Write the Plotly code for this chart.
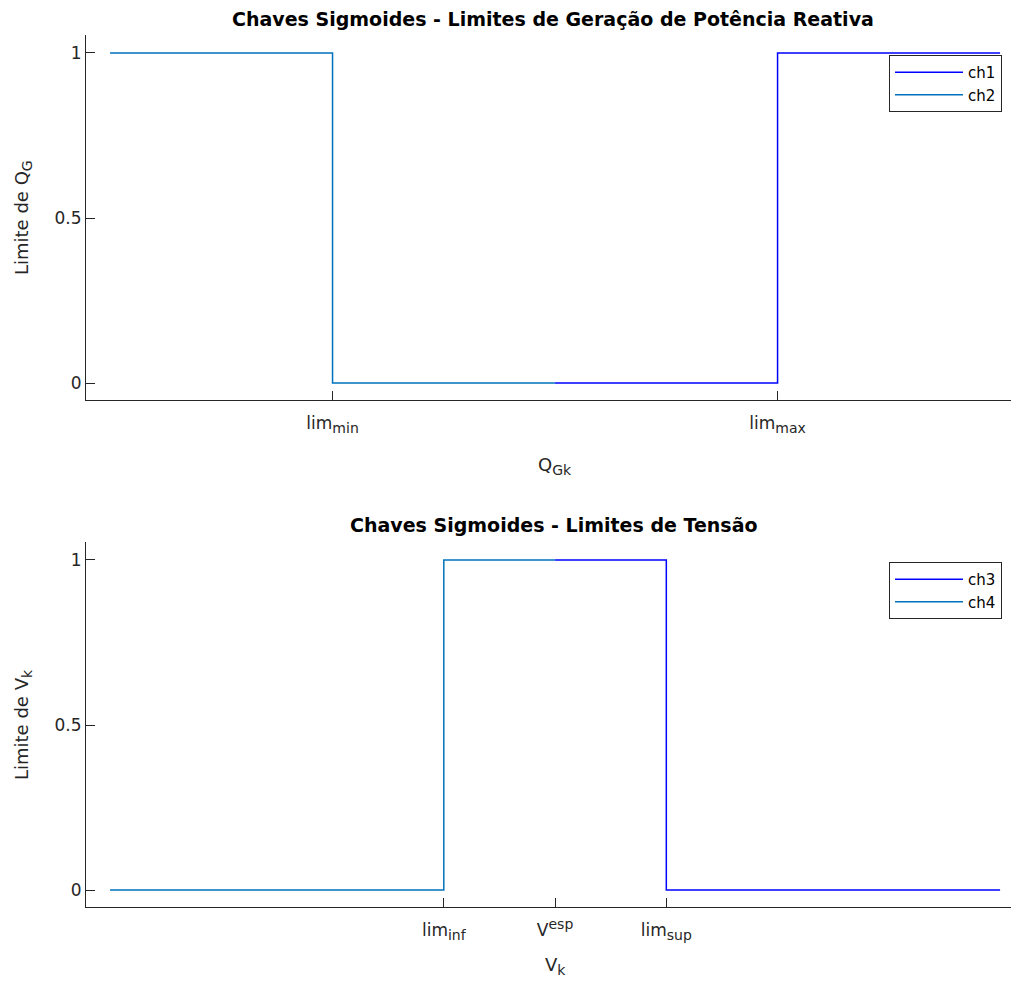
import plotly.graph_objects as go

# Data
x_ch1 = [0, 1, 2]
y_ch1 = [0, 1, 1]
x_ch2 = [-2, -1, 0]
y_ch2 = [1, 0, 0]
x_ch3 = [0, 0.5, 2]
y_ch3 = [1, 0, 0]
x_ch4 = [-2, -0.5, 0]
y_ch4 = [0, 1, 1]

SUBSTYLE = '<span style="font-size:14px">'
top_tickvals = [-1, 1]
top_ticktext = ["lim<sub>" + SUBSTYLE + "min</span></sub>", "lim<sub>" + SUBSTYLE + "max</span></sub>"]
bot_tickvals = [-0.5, 0, 0.5]
bot_ticktext = ["lim<sub>" + SUBSTYLE + "inf</span></sub>", "V<sup>" + SUBSTYLE + "esp</span></sup>",
                "lim<sub>" + SUBSTYLE + "sup</span></sub>"]
y_tickvals = [0, 0.5, 1]
y_ticktext = ["0", "0.5", "1"]

C1 = "#0000FF"
C2 = "#0072BD"
FONT = "DejaVu Sans, Arial, sans-serif"
TXT = "#262626"

OFF = 8  # browser body margin
W, H = 1019 - OFF, 987 - OFF
fig = go.Figure()

fig.add_trace(go.Scatter(x=x_ch1, y=y_ch1, mode="lines", line_shape="hv", name="ch1",
                         line=dict(color=C1, width=1.5), xaxis="x", yaxis="y", legend="legend"))
fig.add_trace(go.Scatter(x=x_ch2, y=y_ch2, mode="lines", line_shape="hv", name="ch2",
                         line=dict(color=C2, width=1.5), xaxis="x", yaxis="y", legend="legend"))
fig.add_trace(go.Scatter(x=x_ch3, y=y_ch3, mode="lines", line_shape="hv", name="ch3",
                         line=dict(color=C1, width=1.5), xaxis="x2", yaxis="y2", legend="legend2"))
fig.add_trace(go.Scatter(x=x_ch4, y=y_ch4, mode="lines", line_shape="hv", name="ch4",
                         line=dict(color=C2, width=1.5), xaxis="x2", yaxis="y2", legend="legend2"))

def py(p):
    return 1 - (p - OFF) / H

def px(p):
    return (p - OFF) / W

xdom = [px(86), 1.0]
axis_common = dict(showgrid=False, zeroline=False, showline=True, linecolor=TXT, linewidth=1,
                   ticks="inside", ticklen=9, tickcolor=TXT, tickwidth=1,
                   tickfont=dict(family=FONT, size=17, color=TXT), mirror=False)

xr = [-2.108, 2.085]
yr = [-0.0515, 1.0545]

fig.update_layout(
    width=W, height=H,
    margin=dict(l=0, r=0, t=0, b=0),
    paper_bgcolor="white", plot_bgcolor="white",
    font=dict(family=FONT, color=TXT),
    xaxis=dict(domain=xdom, range=xr, anchor="y", tickvals=top_tickvals, ticktext=top_ticktext,
               ticklabelstandoff=8, **axis_common),
    yaxis=dict(domain=[py(400), py(35)], range=yr, anchor="x", tickvals=y_tickvals, ticktext=y_ticktext, **axis_common),
    xaxis2=dict(domain=xdom, range=xr, anchor="y2", tickvals=bot_tickvals, ticktext=bot_ticktext,
                ticklabelstandoff=8, **axis_common),
    yaxis2=dict(domain=[py(907), py(542)], range=yr, anchor="x2", tickvals=y_tickvals, ticktext=y_ticktext, **axis_common),
    legend=dict(x=px(889), y=py(55), xanchor="left", yanchor="top", bordercolor=TXT, borderwidth=1,
                bgcolor="white", font=dict(family=FONT, size=15, color="black"), tracegroupgap=0,
                itemwidth=68),
    legend2=dict(x=px(889), y=py(562), xanchor="left", yanchor="top", bordercolor=TXT, borderwidth=1,
                 bgcolor="white", font=dict(family=FONT, size=15, color="black"), tracegroupgap=0,
                 itemwidth=68),
    showlegend=True,
)

ann = [
    dict(text="<b>Chaves Sigmoides - Limites de Geração de Potência Reativa</b>", x=px(553), y=py(19),
         font=dict(size=19, color="black")),
    dict(text="<b>Chaves Sigmoides - Limites de Tensão</b>", x=px(554), y=py(525),
         font=dict(size=19, color="black")),
    dict(text="Q<sub>" + SUBSTYLE + "Gk</span></sub>", x=px(555), y=py(466), font=dict(size=18, color=TXT)),
    dict(text="V<sub>" + SUBSTYLE + "k</span></sub>", x=px(555), y=py(966), font=dict(size=18, color=TXT)),
    dict(text="Limite de Q<sub>" + SUBSTYLE + "G</span></sub>", x=px(23), y=py(218), textangle=-90,
         font=dict(size=18, color=TXT)),
    dict(text="Limite de V<sub>" + SUBSTYLE + "k</span></sub>", x=px(23), y=py(725), textangle=-90,
         font=dict(size=18, color=TXT)),
]
for a in ann:
    a.update(xref="paper", yref="paper", showarrow=False, xanchor="center", yanchor="middle")
    a["font"]["family"] = FONT
fig.update_layout(annotations=ann)

fig.write_html("out.html")
